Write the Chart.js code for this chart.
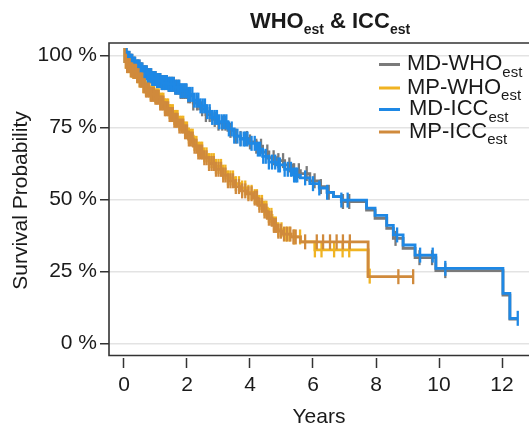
<!DOCTYPE html>
<html>
<head>
<meta charset="utf-8">
<script src="https://cdn.jsdelivr.net/npm/chart.js@4.4.1/dist/chart.umd.min.js"></script>
<style>
html,body{margin:0;padding:0;background:#fff;}
canvas{display:block;}
</style>
</head>
<body>
<canvas id="c" width="529" height="428"></canvas>
<script>
// ---------- DATA ----------
const seriesNames = ["MD-WHO", "MP-WHO", "MD-ICC", "MP-ICC"];
const seriesSub = "est";
const xTicks = [0, 2, 4, 6, 8, 10, 12];
const yTicks = [0, 25, 50, 75, 100];

// MD-ICC (blue)
const timeMDICC = [0,0.1,0.2,0.3,0.4,0.5,0.6,0.75,0.9,1.05,1.2,1.4,1.6,1.8,2.0,2.2,2.4,2.6,2.8,3.0,3.3,3.5,3.7,3.95,4.2,4.4,4.6,4.85,5.1,5.35,5.6,5.9,6.2,6.45,6.65,6.9,7.7,7.97,8.34,8.55,8.86,9.24,9.9,12.03,12.25,12.5];
const survMDICC = [100,99,98,97,96,95,94,93,92,91.3,90.6,90,89,87.8,86.5,84.5,82.5,80.5,78.5,77,74.5,72,71,69.5,67.5,65,63,62,60.5,58.5,57.5,55.5,54,52.5,51,49.8,47,44.5,41,37.7,34.2,30.7,26.1,17.4,8.75,8.75];
const censMDICC = [0.03,0.08,0.12,0.17,0.21,0.26,0.3,0.35,0.4,0.44,0.49,0.53,0.58,0.62,0.67,0.72,0.76,0.81,0.86,0.9,0.95,1.0,1.05,1.1,1.15,1.2,1.26,1.31,1.36,1.42,1.47,1.52,1.58,1.63,1.69,1.75,1.8,1.86,1.92,1.98,2.04,2.1,2.17,2.23,2.3,2.36,2.43,2.5,2.57,2.64,2.72,2.8,2.88,2.95,3.02,3.1,3.18,3.25,3.33,3.42,3.5,3.6,3.7,3.8,3.85,3.92,4.05,4.15,4.25,4.32,4.42,4.5,4.6,4.7,4.8,4.9,4.95,5.1,5.2,5.3,5.4,5.45,5.5,5.75,6.0,6.2,6.45,6.9,7.1,8.67,9.4,9.8,10.2,12.5];

// MD-WHO (grey)
const timeMDWHO = [0,0.1,0.2,0.3,0.4,0.5,0.6,0.75,0.9,1.05,1.2,1.4,1.6,1.8,2.0,2.2,2.4,2.6,2.8,3.0,3.3,3.5,3.7,3.95,4.2,4.4,4.6,4.85,5.1,5.35,5.6,5.9,6.2,6.45,6.65,6.9,7.7,7.97,8.34,8.55,8.86,9.24,9.9,12.03,12.25,12.5];
const survMDWHO = [100,99,98,97,96,95,94,93,92,91.3,90.6,90,89,87.5,86,83.5,81.5,79.5,77.8,76.5,74,72,71.2,70,68.5,66.5,64.5,63.5,62,60,59,56.5,54.5,52.5,51,49.3,46.3,43.5,40,36.5,33,29.8,25.3,16.8,8.5,8.5];
const censMDWHO = [0.03,0.08,0.12,0.17,0.21,0.26,0.3,0.35,0.4,0.44,0.49,0.53,0.58,0.62,0.67,0.72,0.76,0.81,0.86,0.9,0.95,1.0,1.05,1.1,1.15,1.2,1.26,1.31,1.36,1.42,1.47,1.52,1.58,1.63,1.69,1.75,1.8,1.86,1.92,1.98,2.04,2.1,2.2,2.32,2.48,2.6,2.72,2.88,3.0,3.12,3.22,3.38,3.55,3.7,3.9,4.0,4.2,4.35,4.55,4.75,4.9,5.05,5.25,5.4,5.55,5.8,6.05,6.25,6.5,6.95,7.15,8.62,9.38,9.78,10.2];

// MP-ICC (brown)
const timeMPICC = [0,0.05,0.1,0.2,0.3,0.4,0.5,0.6,0.7,0.85,1.0,1.15,1.3,1.45,1.6,1.75,1.9,2.05,2.2,2.35,2.5,2.7,2.9,3.1,3.3,3.5,3.7,3.9,4.1,4.25,4.4,4.55,4.7,4.85,5.05,5.3,5.6,7.75,9.18];
const survMPICC = [100,98,96.5,95,94.5,93,91.5,89.5,88,86.5,85.5,83.5,81.5,79.5,77.5,75.5,73.5,71,68.5,66.5,64.5,62.5,60.5,58.5,56.5,54.5,53,52,50.5,48,46,43.5,41,39,38,37,35.3,23.2,23.2];
const censMPICC = [0.02,0.06,0.1,0.14,0.18,0.22,0.26,0.3,0.34,0.38,0.42,0.46,0.5,0.54,0.58,0.62,0.66,0.7,0.75,0.8,0.85,0.9,0.95,1.0,1.05,1.1,1.15,1.2,1.25,1.3,1.35,1.4,1.45,1.5,1.55,1.6,1.65,1.7,1.76,1.82,1.88,1.94,2.0,2.06,2.12,2.18,2.24,2.3,2.36,2.42,2.48,2.55,2.62,2.7,2.78,2.85,2.92,3.0,3.08,3.15,3.22,3.3,3.38,3.46,3.55,3.65,3.75,3.85,3.95,4.05,4.15,4.22,4.3,4.38,4.46,4.52,4.6,4.68,4.76,4.82,4.9,4.98,5.08,5.18,5.28,5.38,5.45,5.75,6.12,6.32,6.54,6.75,6.95,7.17,8.71,9.18];

// MP-WHO (yellow)
const timeMPWHO = [0,0.05,0.1,0.2,0.3,0.4,0.5,0.6,0.7,0.85,1.0,1.15,1.3,1.45,1.6,1.75,1.9,2.05,2.2,2.35,2.5,2.7,2.9,3.1,3.3,3.5,3.7,3.9,4.1,4.25,4.4,4.55,4.7,4.85,5.05,5.3,5.6,6.06,7.75,7.8];
const survMPWHO = [100,98,96.5,95,94.5,93,91.5,89.5,88.5,87,86,84.5,82.5,80.5,78.5,76.5,74.5,72,69.5,67.5,65.5,63.5,61.5,59.5,57.5,55.5,54,52.5,51,49,47,44.5,41.5,39.5,38,37,35.3,32.5,23.4,23.4];
const censMPWHO = [0.02,0.06,0.1,0.14,0.18,0.22,0.26,0.3,0.34,0.38,0.42,0.46,0.5,0.54,0.58,0.62,0.66,0.7,0.75,0.8,0.85,0.9,0.95,1.0,1.05,1.1,1.15,1.2,1.25,1.3,1.35,1.4,1.45,1.5,1.55,1.6,1.65,1.7,1.76,1.82,1.88,1.94,2.0,2.06,2.12,2.18,2.24,2.3,2.36,2.42,2.48,2.55,2.62,2.7,2.78,2.85,2.92,3.0,3.08,3.15,3.22,3.3,3.38,3.46,3.55,3.65,3.75,3.85,3.95,4.05,4.15,4.22,4.3,4.38,4.46,4.52,4.6,4.68,4.76,4.82,4.9,5.0,5.15,5.25,5.4,5.59,6.06,6.27,6.67,6.94,7.15,7.8];

const colors = {"MD-WHO":"#7a7a7a","MP-WHO":"#f0b322","MD-ICC":"#1e88e5","MP-ICC":"#d08a3c"};

// ---------- helpers ----------
function steps(ts, ss){ return ts.map((t,i)=>({x:t, y:ss[i]})); }
function survAt(ts, ss, c){ let v = ss[0]; for(let i=0;i<ts.length;i++){ if(ts[i] <= c) v = ss[i]; } return v; }
function cens(ts, ss, cs){ return cs.map(c=>({x:c, y:survAt(ts,ss,c)})); }

const groups = [
  {name:"MP-ICC", t:timeMPICC, s:survMPICC, c:censMPICC},
  {name:"MD-ICC", t:timeMDICC, s:survMDICC, c:censMDICC},
  {name:"MP-WHO", t:timeMPWHO, s:survMPWHO, c:censMPWHO},
  {name:"MD-WHO", t:timeMDWHO, s:survMDWHO, c:censMDWHO}
];
const datasets = [];
groups.forEach((g, gi)=>{
  const col = colors[g.name];
  datasets.push({
    type:'line', label:g.name, data:steps(g.t,g.s), stepped:true,
    borderColor:col, borderWidth:2.8, pointRadius:0, fill:false, order: gi*2
  });
  datasets.push({
    type:'line', label:g.name+' censor', data:cens(g.t,g.s,g.c), showLine:false,
    pointStyle:'line', rotation:90, pointRadius:7.5, pointHoverRadius:7.5, pointBorderWidth:2.3,
    borderColor:col, pointBorderColor:col, backgroundColor:col, order: gi*2+1
  });
});

const FONT = "'Liberation Sans', Arial, Helvetica, sans-serif";
const TXT = '#1a1a1a';

const boxPlugin = {
  id:'box',
  beforeDatasetsDraw(chart){
    const a = chart.chartArea, ctx = chart.ctx;
    ctx.save();
    ctx.strokeStyle = '#333'; ctx.lineWidth = 1.6;
    const b = a.bottom - 2.5;
    ctx.beginPath();
    ctx.moveTo(chart.width+2, a.top); ctx.lineTo(a.left, a.top); ctx.lineTo(a.left, b); ctx.lineTo(chart.width+2, b);
    ctx.stroke();
    ctx.restore();
  }
};

function drawSub(ctx, parts, x, y){
  let cx = x;
  parts.forEach(p=>{ ctx.font = p[1]; ctx.fillText(p[0], cx, y + p[2]); cx += ctx.measureText(p[0]).width; });
  return cx - x;
}
function measureSub(ctx, parts){
  let w = 0; parts.forEach(p=>{ ctx.font = p[1]; w += ctx.measureText(p[0]).width; }); return w;
}

const textPlugin = {
  id:'texts',
  afterDraw(chart){
    const ctx = chart.ctx;
    ctx.save();
    ctx.fillStyle = TXT; ctx.textBaseline = 'alphabetic'; ctx.textAlign = 'left';
    const tb = "bold 22px " + FONT, ts = "bold 14px " + FONT;
    const tparts = [["WHO",tb,0],[seriesSub,ts,6],[" & ICC",tb,0],[seriesSub,ts,6]];
    const tw = measureSub(ctx, tparts);
    drawSub(ctx, tparts, 330 - tw/2, 27.5);
    const legendOrder = ["MD-WHO","MP-WHO","MD-ICC","MP-ICC"];
    const baselines = [70, 93.5, 115, 137.5];
    const textX = [407, 407, 409, 409];
    legendOrder.forEach((n,i)=>{
      ctx.strokeStyle = colors[n]; ctx.lineWidth = 3;
      ctx.beginPath(); ctx.moveTo(379, baselines[i]-5.5); ctx.lineTo(400, baselines[i]-5.5); ctx.stroke();
      ctx.fillStyle = TXT;
      drawSub(ctx, [[n, "22px "+FONT, 0],[seriesSub, "15px "+FONT, 6.5]], textX[i], baselines[i]);
    });
    ctx.restore();
  }
};

new Chart(document.getElementById('c'), {
  data:{ datasets },
  options:{
    responsive:false, animation:false, devicePixelRatio:1,
    layout:{ autoPadding:false, padding:{ top:43, right:0, left:0, bottom:0 } },
    plugins:{ legend:{display:false}, title:{display:false}, tooltip:{enabled:false} },
    scales:{
      x:{
        type:'linear', min:-0.476, max:12.857,
        afterBuildTicks(s){ s.ticks = xTicks.map(v=>({value:v})); },
        afterFit(s){ s.height = 70; s.paddingLeft = 0; s.paddingRight = 0; },
        ticks:{ font:{size:21, family:FONT}, color:TXT, padding:5, maxRotation:0, autoSkip:false },
        grid:{ drawOnChartArea:false, drawTicks:true, tickLength:10, tickColor:'#333', tickWidth:1.5 },
        border:{ display:false },
        title:{ display:true, text:'Years', font:{size:21, family:FONT, lineHeight:1.0}, color:TXT, padding:{top:6,bottom:0} }
      },
      y:{
        type:'linear', min:-5.03, max:104.34,
        afterBuildTicks(s){ s.ticks = yTicks.map(v=>({value:v})); },
        afterFit(s){ s.width = 109; s.paddingTop = 0; s.paddingBottom = 0; },
        ticks:{ font:{size:21, family:FONT}, color:TXT, padding:3, callback:(v)=>v+' %' },
        grid:{ color:'#e3e3e3', lineWidth:1.5, tickColor:'#333', tickWidth:1.5, tickLength:9 },
        border:{ display:false },
        title:{ display:true, text:'Survival Probability', font:{size:21, family:FONT}, color:TXT, padding:{top:8.5,bottom:4} }
      }
    }
  },
  plugins:[boxPlugin, textPlugin]
});
</script>
</body>
</html>
